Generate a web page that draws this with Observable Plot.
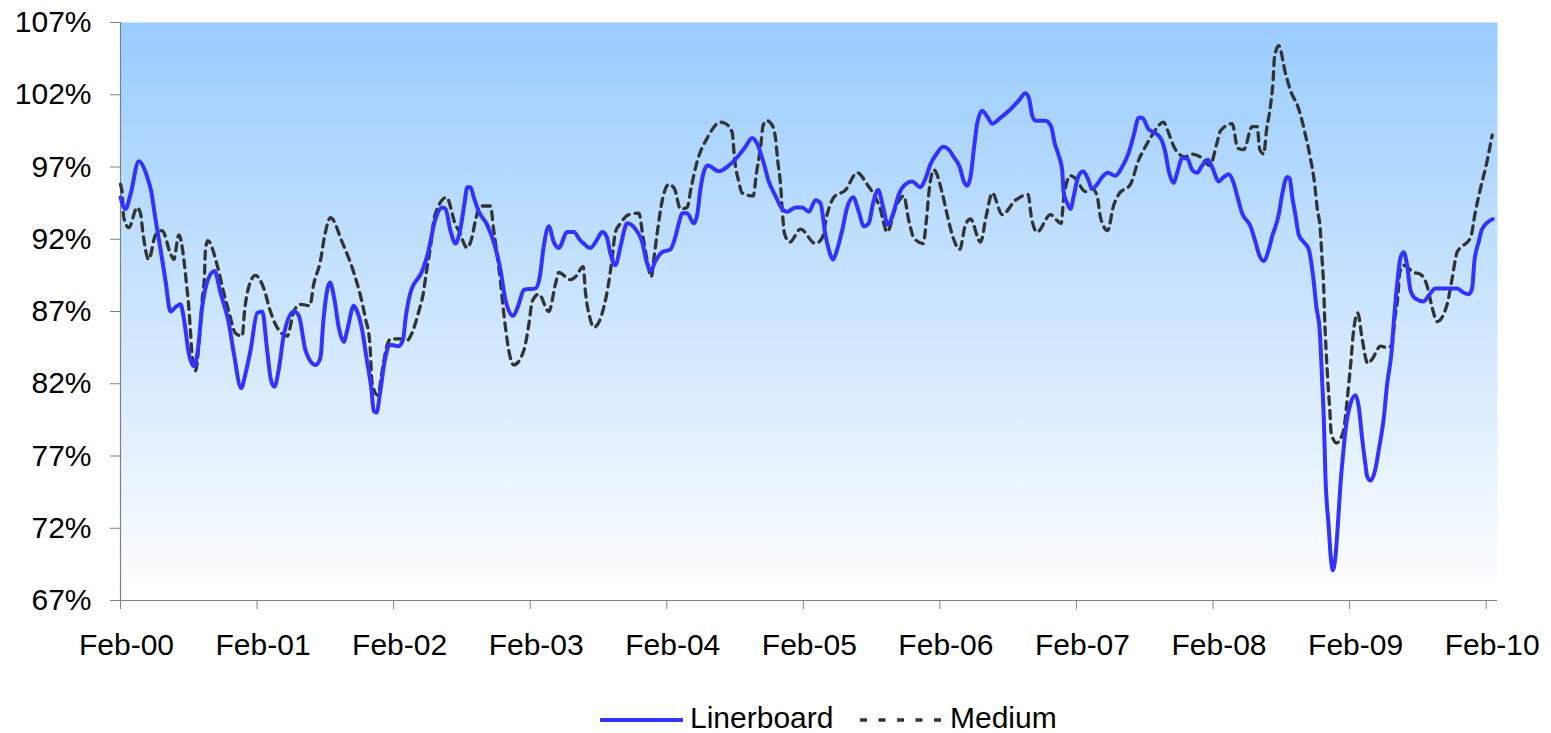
<!DOCTYPE html>
<html>
<head>
<meta charset="utf-8">
<script src="https://cdn.jsdelivr.net/npm/d3@7"></script>
<script src="https://cdn.jsdelivr.net/npm/@observablehq/plot@0.6"></script>
<style>
  html, body { margin: 0; padding: 0; background: #fff; }
  body { font-family: "Liberation Sans", Arial, sans-serif; }
  #chart svg { display: block; }
</style>
</head>
<body>
<div id="chart"></div>
<script>
// ---- data (decimal year, percent) ----
const seriesNames = ["Linerboard", "Medium"];
const seriesColors = ["#3333FF", "#333333"];
const tickYears = [2000, 2001, 2002, 2003, 2004, 2005, 2006, 2007, 2008, 2009, 2010];
const tickLabels = ["Feb-00", "Feb-01", "Feb-02", "Feb-03", "Feb-04", "Feb-05", "Feb-06", "Feb-07", "Feb-08", "Feb-09", "Feb-10"];
const yTicks = [67, 72, 77, 82, 87, 92, 97, 102, 107];

const linerboard = [
[2000.085,94.9],[2000.122,94.1],[2000.158,95.1],[2000.219,97.4],[2000.281,96.3],[2000.310,95.3],[2000.341,93.4],[2000.378,91.3],[2000.415,89.1],[2000.451,87.0],[2000.488,87.3],[2000.524,87.5],[2000.549,86.5],[2000.585,84.1],[2000.622,83.2],[2000.651,84.3],[2000.683,87.3],[2000.715,88.9],[2000.773,89.8],[2000.817,88.3],[2000.878,86.2],[2000.915,84.1],[2000.969,81.7],[2001.000,82.7],[2001.037,84.3],[2001.086,86.9],[2001.123,87.0],[2001.159,84.3],[2001.188,82.2],[2001.213,81.8],[2001.244,83.0],[2001.281,85.4],[2001.354,87.0],[2001.391,86.7],[2001.440,84.3],[2001.513,83.3],[2001.549,83.8],[2001.569,86.2],[2001.618,89.0],[2001.652,87.8],[2001.683,85.9],[2001.720,84.9],[2001.745,85.7],[2001.793,87.4],[2001.818,87.0],[2001.855,85.7],[2001.886,83.8],[2001.921,81.7],[2001.940,80.1],[2001.959,80.0],[2001.989,81.6],[2002.018,83.5],[2002.057,84.7],[2002.123,84.6],[2002.155,85.1],[2002.172,86.5],[2002.208,88.3],[2002.294,89.8],[2002.335,91.0],[2002.391,93.4],[2002.441,94.2],[2002.465,94.1],[2002.501,92.6],[2002.538,91.7],[2002.569,92.5],[2002.604,94.5],[2002.624,95.6],[2002.648,95.6],[2002.672,94.9],[2002.709,93.9],[2002.770,93.0],[2002.818,91.8],[2002.867,89.9],[2002.904,87.8],[2002.960,86.7],[2003.001,87.5],[2003.038,88.5],[2003.124,88.6],[2003.155,89.4],[2003.184,91.5],[2003.221,92.9],[2003.258,91.8],[2003.294,91.4],[2003.356,92.5],[2003.404,92.5],[2003.453,91.9],[2003.477,91.7],[2003.526,91.4],[2003.570,91.9],[2003.612,92.5],[2003.644,92.2],[2003.673,91.0],[2003.709,90.2],[2003.746,91.5],[2003.795,93.1],[2003.856,92.7],[2003.905,91.8],[2003.936,90.5],[2003.966,89.8],[2004.002,90.5],[2004.051,91.1],[2004.112,91.3],[2004.149,92.2],[2004.173,93.1],[2004.198,93.8],[2004.234,93.8],[2004.283,93.1],[2004.308,93.7],[2004.332,95.5],[2004.361,96.8],[2004.385,97.1],[2004.466,96.7],[2004.539,97.1],[2004.612,97.8],[2004.661,98.4],[2004.710,99.0],[2004.747,98.6],[2004.791,97.4],[2004.832,96.0],[2004.881,95.0],[2004.930,94.1],[2004.967,93.9],[2005.027,94.2],[2005.077,94.2],[2005.125,93.9],[2005.174,94.7],[2005.210,94.5],[2005.247,92.3],[2005.271,91.3],[2005.303,90.6],[2005.333,91.3],[2005.369,92.6],[2005.406,94.2],[2005.450,94.9],[2005.491,93.9],[2005.528,92.9],[2005.564,93.1],[2005.596,94.5],[2005.633,95.4],[2005.670,94.2],[2005.703,93.0],[2005.747,93.9],[2005.784,95.1],[2005.833,95.8],[2005.882,96.0],[2005.943,95.6],[2005.979,96.2],[2006.016,97.2],[2006.060,97.9],[2006.109,98.4],[2006.150,98.2],[2006.186,97.7],[2006.230,97.0],[2006.260,96.0],[2006.285,95.7],[2006.309,96.3],[2006.333,98.2],[2006.358,100.0],[2006.394,100.9],[2006.431,100.5],[2006.468,100.0],[2006.528,100.4],[2006.602,101.0],[2006.662,101.6],[2006.711,102.1],[2006.736,101.8],[2006.760,100.6],[2006.785,100.2],[2006.858,100.2],[2006.900,99.8],[2006.924,98.7],[2006.955,97.8],[2006.980,96.8],[2006.992,95.2],[2007.017,94.5],[2007.041,94.1],[2007.065,95.0],[2007.097,96.3],[2007.134,96.7],[2007.168,96.2],[2007.200,95.5],[2007.236,95.8],[2007.273,96.3],[2007.314,96.6],[2007.370,96.4],[2007.419,97.0],[2007.468,98.0],[2007.504,99.2],[2007.541,100.4],[2007.566,100.4],[2007.614,99.6],[2007.651,99.4],[2007.700,99.0],[2007.736,98.0],[2007.761,96.7],[2007.797,95.9],[2007.822,96.6],[2007.859,97.6],[2007.895,97.6],[2007.932,96.8],[2007.969,96.6],[2008.005,97.1],[2008.046,97.5],[2008.078,97.0],[2008.127,96.0],[2008.163,96.3],[2008.200,96.5],[2008.232,96.0],[2008.262,95.0],[2008.298,93.8],[2008.359,92.9],[2008.396,91.8],[2008.420,91.0],[2008.456,90.5],[2008.493,91.3],[2008.518,92.2],[2008.566,93.7],[2008.591,95.1],[2008.628,96.3],[2008.647,96.2],[2008.664,95.0],[2008.688,93.7],[2008.713,92.3],[2008.749,91.8],[2008.786,91.3],[2008.818,89.4],[2008.842,87.3],[2008.866,85.7],[2008.884,82.2],[2008.896,79.6],[2008.908,75.6],[2008.932,72.1],[2008.950,69.7],[2008.962,69.1],[2008.981,70.0],[2008.998,72.1],[2009.018,75.0],[2009.038,77.2],[2009.062,79.3],[2009.091,80.6],[2009.128,81.2],[2009.152,80.4],[2009.177,78.2],[2009.201,76.4],[2009.213,75.6],[2009.238,75.3],[2009.274,76.1],[2009.298,77.4],[2009.335,79.6],[2009.360,82.0],[2009.391,84.1],[2009.408,86.2],[2009.433,88.9],[2009.457,90.7],[2009.481,91.1],[2009.506,90.2],[2009.530,88.5],[2009.567,87.9],[2009.628,87.7],[2009.664,88.1],[2009.713,88.6],[2009.799,88.6],[2009.872,88.6],[2009.921,88.3],[2009.957,88.2],[2009.982,88.6],[2009.999,90.5],[2010.030,91.8],[2010.055,92.7],[2010.133,93.4]
];

const medium = [
[2000.085,95.8],[2000.097,95.2],[2000.109,93.5],[2000.146,92.8],[2000.207,94.2],[2000.231,93.8],[2000.251,92.3],[2000.292,90.6],[2000.341,92.3],[2000.390,92.6],[2000.451,91.0],[2000.475,90.6],[2000.512,92.3],[2000.549,90.6],[2000.568,88.9],[2000.585,87.3],[2000.598,85.5],[2000.610,83.9],[2000.634,82.9],[2000.658,84.6],[2000.671,86.2],[2000.683,87.8],[2000.700,89.5],[2000.707,91.3],[2000.724,91.9],[2000.793,90.2],[2000.841,88.3],[2000.878,87.0],[2000.927,85.5],[2000.976,85.3],[2000.993,87.0],[2001.024,88.7],[2001.073,89.5],[2001.134,88.6],[2001.183,87.0],[2001.220,86.1],[2001.306,85.3],[2001.354,87.0],[2001.403,87.5],[2001.471,87.4],[2001.500,88.9],[2001.549,90.5],[2001.579,92.2],[2001.623,93.5],[2001.708,91.8],[2001.793,89.7],[2001.847,87.9],[2001.879,86.5],[2001.910,84.9],[2001.928,82.0],[2001.969,81.2],[2002.001,82.9],[2002.038,84.7],[2002.062,85.1],[2002.148,85.1],[2002.184,85.0],[2002.214,85.4],[2002.269,87.0],[2002.301,88.2],[2002.326,89.8],[2002.355,91.5],[2002.379,93.3],[2002.404,94.1],[2002.472,94.9],[2002.538,93.0],[2002.562,92.6],[2002.624,91.4],[2002.660,92.2],[2002.684,93.3],[2002.721,94.3],[2002.794,94.3],[2002.818,92.6],[2002.843,90.9],[2002.867,89.1],[2002.884,87.5],[2002.904,85.9],[2002.928,84.3],[2002.965,83.3],[2003.038,84.3],[2003.075,86.1],[2003.100,87.7],[2003.148,88.2],[2003.221,87.0],[2003.270,88.9],[2003.294,89.7],[2003.380,89.2],[2003.417,89.4],[2003.473,90.1],[2003.490,88.3],[2003.521,86.6],[2003.551,85.9],[2003.624,87.3],[2003.660,89.0],[2003.685,90.7],[2003.709,92.5],[2003.746,93.1],[2003.807,93.7],[2003.880,93.8],[2003.912,92.1],[2003.942,90.5],[2003.971,89.4],[2003.995,91.0],[2004.019,92.7],[2004.044,94.3],[2004.100,95.8],[2004.141,95.5],[2004.185,94.1],[2004.234,94.2],[2004.264,95.6],[2004.308,97.4],[2004.381,99.0],[2004.478,100.1],[2004.515,100.0],[2004.564,99.4],[2004.581,97.6],[2004.612,96.0],[2004.637,95.2],[2004.718,95.0],[2004.742,96.6],[2004.771,98.3],[2004.791,99.9],[2004.820,100.2],[2004.857,99.9],[2004.881,99.0],[2004.898,97.4],[2004.918,95.8],[2004.930,94.1],[2004.947,92.4],[2004.986,91.8],[2005.064,92.7],[2005.174,91.7],[2005.223,92.1],[2005.259,93.7],[2005.308,94.9],[2005.393,95.4],[2005.479,96.6],[2005.552,95.8],[2005.645,94.2],[2005.699,92.5],[2005.760,94.2],[2005.820,95.0],[2005.857,93.3],[2005.894,92.1],[2005.962,91.7],[2005.987,93.4],[2006.003,95.1],[2006.040,96.8],[2006.102,95.2],[2006.138,93.7],[2006.182,92.1],[2006.230,91.3],[2006.272,93.0],[2006.309,93.4],[2006.382,91.8],[2006.426,93.7],[2006.468,95.2],[2006.541,93.7],[2006.638,94.7],[2006.731,95.1],[2006.755,93.5],[2006.797,92.5],[2006.894,93.7],[2006.973,93.1],[2006.992,94.9],[2007.041,96.4],[2007.077,96.2],[2007.151,95.3],[2007.200,95.5],[2007.236,95.0],[2007.261,93.5],[2007.314,92.6],[2007.353,94.2],[2007.394,95.1],[2007.480,95.8],[2007.541,97.5],[2007.578,98.2],[2007.632,99.1],[2007.724,100.1],[2007.749,99.6],[2007.810,98.2],[2007.883,97.7],[2007.920,97.9],[2007.993,97.7],[2008.061,97.1],[2008.115,98.7],[2008.139,99.5],[2008.225,100.0],[2008.266,98.3],[2008.310,98.2],[2008.371,99.8],[2008.408,99.8],[2008.427,98.2],[2008.456,97.9],[2008.476,99.5],[2008.505,101.2],[2008.525,103.0],[2008.535,104.6],[2008.566,105.4],[2008.615,103.5],[2008.652,102.3],[2008.713,101.0],[2008.757,99.4],[2008.798,97.6],[2008.828,95.9],[2008.847,94.2],[2008.871,92.6],[2008.884,90.5],[2008.896,88.5],[2008.901,86.9],[2008.913,84.3],[2008.928,81.8],[2008.940,80.2],[2008.950,78.6],[2008.989,77.9],[2009.042,78.8],[2009.062,80.4],[2009.079,82.0],[2009.096,83.7],[2009.111,85.4],[2009.145,86.9],[2009.177,85.1],[2009.218,83.4],[2009.250,83.7],[2009.311,84.6],[2009.360,84.5],[2009.396,84.7],[2009.413,86.3],[2009.437,87.9],[2009.452,89.7],[2009.481,90.2],[2009.555,89.7],[2009.599,89.6],[2009.648,88.9],[2009.689,87.3],[2009.726,86.3],[2009.799,87.5],[2009.836,89.3],[2009.872,91.1],[2009.909,91.5],[2009.970,92.1],[2010.006,93.9],[2010.043,95.5],[2010.087,97.2],[2010.129,99.2]
];

// ---- build ----
const FEB = 31 / 365;               // offset of 1 Feb inside a year
const xStart = 2000 + FEB;
const xEnd = xStart + 10.083;        // plot area ends shortly after Feb-10
const toRows = (arr, name) => arr.map(([t, v]) => ({ t, v, name }));
const labelFor = d => tickLabels[tickYears.indexOf(Math.round(d - FEB))];
const FONT = '"Liberation Sans", Arial, Helvetica, sans-serif';

const chart = Plot.plot({
  width: 1551,
  height: 680,
  marginLeft: 120,
  marginRight: 54,
  marginTop: 22,
  marginBottom: 80,
  style: { fontFamily: FONT, fontSize: "30px", color: "#000", background: "#fff", overflow: "visible" },
  x: { type: "linear", domain: [xStart, xEnd] },
  y: { domain: [67, 107] },
  marks: [
    Plot.frame({ fill: "url(#plotbg)", stroke: "none" }),
    Plot.axisY({ ticks: yTicks, tickFormat: d => d + "%", tickSize: 10, tickPadding: 19,
                 stroke: "#808080", fill: "#000", fontSize: 30, label: null }),
    Plot.axisX({ ticks: tickYears.map(y => y + FEB), tickFormat: () => "", tickSize: 9,
                 stroke: "#808080", label: null }),
    Plot.axisX({ ticks: tickYears.map(y => y + FEB), tickFormat: labelFor, tickSize: 0,
                 tickPadding: 33, dx: 6, fill: "#000", fontSize: 30, label: null }),
    Plot.ruleX([xStart], { stroke: "#808080", strokeWidth: 1.2 }),
    Plot.ruleY([67], { stroke: "#808080", strokeWidth: 1.2 }),
    Plot.line(toRows(medium, seriesNames[1]), { x: "t", y: "v", stroke: seriesColors[1],
              strokeWidth: 3.3, strokeDasharray: "8,6", curve: "monotone-x" }),
    Plot.line(toRows(linerboard, seriesNames[0]), { x: "t", y: "v", stroke: seriesColors[0],
              strokeWidth: 4, curve: "monotone-x" })
  ]
});

// gradient background for the plot area
const defs = d3.select(chart).insert("defs", ":first-child");
const grad = defs.append("linearGradient").attr("id", "plotbg")
  .attr("x1", 0).attr("y1", 0).attr("x2", 0).attr("y2", 1);
grad.append("stop").attr("offset", "0%").attr("stop-color", "#99CCFF");
grad.append("stop").attr("offset", "100%").attr("stop-color", "#FFFFFF");

document.getElementById("chart").appendChild(chart);

// legend below the chart
const legend = d3.select("#chart").append("svg")
  .attr("width", 1551).attr("height", 53)
  .style("display", "block")
  .attr("font-family", FONT).attr("font-size", 30);
legend.append("line").attr("x1", 600).attr("x2", 683).attr("y1", 40).attr("y2", 40)
  .attr("stroke", seriesColors[0]).attr("stroke-width", 4);
legend.append("text").attr("x", 690).attr("y", 48).attr("fill", "#000").text(seriesNames[0]);
legend.append("line").attr("x1", 860).attr("x2", 941).attr("y1", 40).attr("y2", 40)
  .attr("stroke", seriesColors[1]).attr("stroke-width", 3.5).attr("stroke-dasharray", "7,11.5");
legend.append("text").attr("x", 950).attr("y", 48).attr("fill", "#000").text(seriesNames[1]);
</script>
</body>
</html>
